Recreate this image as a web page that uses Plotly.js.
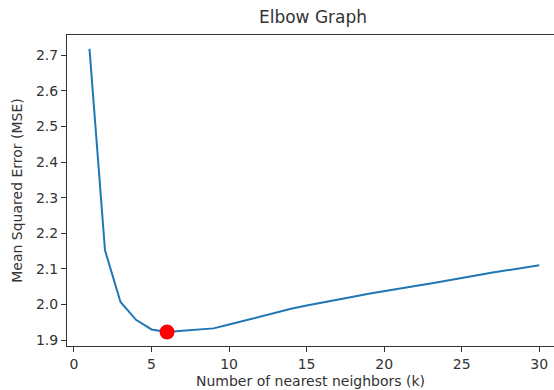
<!DOCTYPE html>
<html>
<head>
<meta charset="utf-8">
<script src="https://cdn.plot.ly/plotly-3.0.1.min.js"></script>
<style>
html,body{margin:0;padding:0;background:#fff;overflow:hidden;}
#chart{width:554px;height:390px;}
</style>
</head>
<body>
<div id="chart"></div>
<script>
// Data
const kValues = [1,2,3,4,5,6,7,8,9,10,11,12,13,14,15,16,17,18,19,20,21,22,23,24,25,26,27,28,29,30];
const mseValues = [2.718,2.152,2.007,1.957,1.930,1.923,1.926,1.929,1.933,1.944,1.955,1.967,1.978,1.988,1.997,2.006,2.014,2.022,2.030,2.038,2.045,2.052,2.059,2.066,2.074,2.082,2.090,2.097,2.104,2.110];
const bestK = [6];
const xTicks = [0,5,10,15,20,25,30];
const yTicks = [1.9,2.0,2.1,2.2,2.3,2.4,2.5,2.6,2.7];
const yTickText = ['1.9','2.0','2.1','2.2','2.3','2.4','2.5','2.6','2.7'];

const bestMse = bestK.map(k => mseValues[kValues.indexOf(k)]);

const font = 'DejaVu Sans, Liberation Sans, sans-serif';
const textColor = '#333333';

const traces = [
  {
    x: kValues, y: mseValues, type: 'scatter', mode: 'lines',
    line: {color: '#1f77b4', width: 2}, hoverinfo: 'x+y', showlegend: false
  },
  {
    x: bestK, y: bestMse, type: 'scatter', mode: 'markers',
    marker: {color: '#ff0000', size: 15, line: {width: 0}}, showlegend: false
  }
];

const layout = {
  width: 554, height: 390,
  margin: {l: 67, r: 0, t: 35, b: 44, pad: 0},
  paper_bgcolor: '#ffffff', plot_bgcolor: '#ffffff',
  font: {family: font, size: 14, color: textColor},
  title: {
    text: 'Elbow Graph', font: {family: font, size: 17, color: textColor},
    xref: 'container', yref: 'container', x: 0.565, y: 0.956,
    xanchor: 'center', yanchor: 'middle'
  },
  xaxis: {
    range: [-0.45, 30.95],
    tickmode: 'array', tickvals: xTicks, ticktext: xTicks.map(String),
    ticks: 'outside', ticklen: 5, tickwidth: 1, tickcolor: textColor,
    showline: true, linecolor: textColor, linewidth: 1, mirror: true,
    showgrid: false, zeroline: false,
    tickfont: {family: font, size: 14, color: textColor},
    title: {text: 'Number of nearest neighbors (k)', font: {family: font, size: 14, color: textColor}, standoff: 5}
  },
  yaxis: {
    range: [1.8835, 2.757],
    tickmode: 'array', tickvals: yTicks, ticktext: yTickText,
    ticks: 'outside', ticklen: 5, tickwidth: 1, tickcolor: textColor,
    showline: true, linecolor: textColor, linewidth: 1, mirror: false,
    showgrid: false, zeroline: false,
    tickfont: {family: font, size: 14, color: textColor},
    title: {text: 'Mean Squared Error (MSE)', font: {family: font, size: 14, color: textColor}, standoff: 10}
  }
};

Plotly.newPlot('chart', traces, layout, {staticPlot: true, displayModeBar: false});
</script>
</body>
</html>
